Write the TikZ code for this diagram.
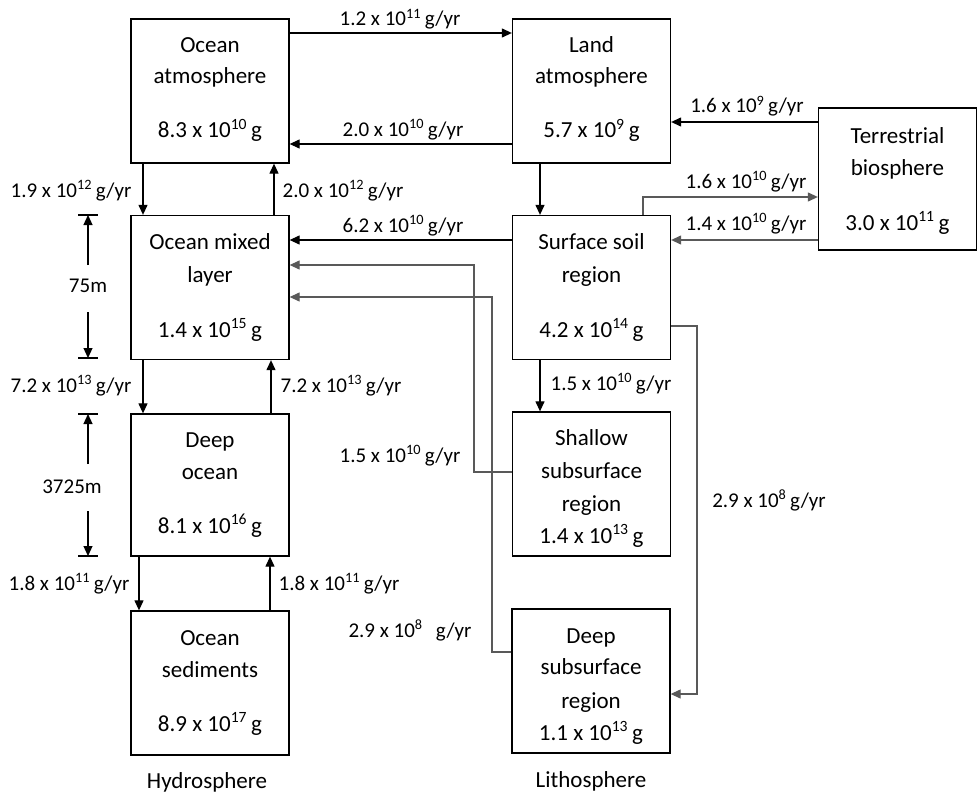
\documentclass[tikz,border=0pt]{standalone}
\usepackage{fontspec}
\setmainfont{Carlito}
\usetikzlibrary{arrows.meta}
\newcommand{\sci}[2]{#1 x 10\raisebox{0.36em}{\fontsize{0.68em}{0.8em}\selectfont #2}\hspace{0.2em}}
\begin{document}
\begin{tikzpicture}[x=1pt,y=-1pt,
  box/.style={draw, line width=1.3pt, minimum width=158pt, minimum height=144pt, inner sep=0pt},
  bt/.style={anchor=base, inner sep=0pt, font=\fontsize{23}{26}\selectfont},
  lb/.style={anchor=base, inner sep=0pt, font=\fontsize{21}{24}\selectfont},
  flow/.style={line width=1.2pt, -{Triangle[length=10pt,width=9pt]}},
  gflow/.style={flow, draw=black!65},
  tick/.style={line width=1.2pt}]
\useasboundingbox (0,0) rectangle (979,797);

% boxes
\node[box] (oa) at (210,91) {};
\node[box] (la) at (591.5,91) {};
\node[box, minimum height=142pt] (tb) at (897.5,179) {};
\node[box] (om) at (210,287.5) {};
\node[box] (ss) at (591.5,287.5) {};
\node[box] (sh) at (591.5,484) {};
\node[box, minimum height=142pt] (do) at (210,485) {};
\node[box] (os) at (210,683) {};
\node[box] (ds) at (591,681) {};

% box texts
\node[bt] (oa1) at (210,53) {Ocean};
\node[bt] (oa2) at (210,84) {atmosphere};
\node[bt] (oa3) at (210,138) {\sci{8.3}{10}g};
\node[bt] (la1) at (591.5,53) {Land};
\node[bt] (la2) at (591.5,84) {atmosphere};
\node[bt] (la3) at (591.5,138) {\sci{5.7}{9}g};
\node[bt] (tb1) at (897.5,143) {Terrestrial};
\node[bt] (tb2) at (897.5,175) {biosphere};
\node[bt] (tb3) at (897.5,230) {\sci{3.0}{11}g};
\node[bt] (om1) at (210,249) {Ocean mixed};
\node[bt] (om2) at (210,282) {layer};
\node[bt] (om3) at (210,337) {\sci{1.4}{15}g};
\node[bt] (ss1) at (591.5,249) {Surface soil};
\node[bt] (ss2) at (591.5,282) {region};
\node[bt] (ss3) at (591.5,337) {\sci{4.2}{14}g};
\node[bt] (sh1) at (591.5,445) {Shallow};
\node[bt] (sh2) at (591.5,478) {subsurface};
\node[bt] (sh3) at (591.5,511) {region};
\node[bt] (sh4) at (591.5,543) {\sci{1.4}{13}g};
\node[bt] (do1) at (210,447) {Deep};
\node[bt] (do2) at (210,479) {ocean};
\node[bt] (do3) at (210,533) {\sci{8.1}{16}g};
\node[bt] (os1) at (210,645) {Ocean};
\node[bt] (os2) at (210,677) {sediments};
\node[bt] (os3) at (210,731) {\sci{8.9}{17}g};
\node[bt] (ds1) at (591,643) {Deep};
\node[bt] (ds2) at (591,674) {subsurface};
\node[bt] (ds3) at (591,708) {region};
\node[bt] (ds4) at (591,740) {\sci{1.1}{13}g};

\node[bt] (hy) at (207,788) {Hydrosphere};
\node[bt] (li) at (591,787) {Lithosphere};

% connectors
\draw[flow] (oa.east |- 0,33) -- (la.west |- 0,33);
\draw[flow] (la.west |- 0,144) -- (oa.east |- 0,144);
\draw[flow] (oa.south -| 143,0) -- (om.north -| 143,0);
\draw[flow] (om.north -| 274,0) -- (oa.south -| 274,0);
\draw[flow] (la.south -| 540,0) -- (ss.north -| 540,0);
\draw[flow] (tb.west |- 0,122) -- (la.east |- 0,122);
\draw[gflow] (ss.north -| 643,0) |- (tb.west |- 0,197);
\draw[gflow] (tb.west |- 0,240) -- (ss.east |- 0,240);
\draw[flow] (ss.west |- 0,240) -- (om.east |- 0,240);
\draw[gflow] (sh.west |- 0,472) -| (474,265) -- (om.east |- 0,265);
\draw[gflow] (ds.west |- 0,652) -| (492,297) -- (om.east |- 0,297);
\draw[gflow] (ss.east |- 0,326) -| (697,694) -- (ds.east |- 0,694);
\draw[flow] (ss.south -| 540,0) -- (sh.north -| 540,0);
\draw[flow] (om.south -| 143,0) -- (do.north -| 143,0);
\draw[flow] (do.north -| 271,0) -- (om.south -| 271,0);
\draw[flow] (do.south -| 139,0) -- (os.north -| 139,0);
\draw[flow] (os.north -| 270,0) -- (do.south -| 270,0);

% flow labels
\node[lb] at (400,26) {\sci{1.2}{11}g/yr};
\node[lb] at (403,136) {\sci{2.0}{10}g/yr};
\node[lb] at (71,197) {\sci{1.9}{12}g/yr};
\node[lb] at (343,197) {\sci{2.0}{12}g/yr};
\node[lb] at (747,113) {\sci{1.6}{9}g/yr};
\node[lb] at (746,188) {\sci{1.6}{10}g/yr};
\node[lb] at (746,230) {\sci{1.4}{10}g/yr};
\node[lb] at (403,232) {\sci{6.2}{10}g/yr};
\node[lb] at (71,392) {\sci{7.2}{13}g/yr};
\node[lb] at (341,392) {\sci{7.2}{13}g/yr};
\node[lb] at (400,462) {\sci{1.5}{10}g/yr};
\node[lb] at (410,637) {\sci{2.9}{8}\ \ g/yr};
\node[lb] at (69,590) {\sci{1.8}{11}g/yr};
\node[lb] at (339,590) {\sci{1.8}{11}g/yr};
\node[lb] at (611,390) {\sci{1.5}{10}g/yr};
\node[lb] at (769,507) {\sci{2.9}{8}g/yr};

% depth markers
\coordinate (m1t) at (88,215);
\coordinate (m1b) at (88,358);
\coordinate (m2t) at (88,414);
\coordinate (m2b) at (88,556);
\draw[tick] ([xshift=-10pt]m1t) -- ([xshift=10pt]m1t);
\draw[tick] ([xshift=-10pt]m1b) -- ([xshift=10pt]m1b);
\draw[tick] ([xshift=-10pt]m2t) -- ([xshift=10pt]m2t);
\draw[tick] ([xshift=-10pt]m2b) -- ([xshift=10pt]m2b);
\node[lb] (d1) at (88,292) {75m};
\node[lb] (d2) at (72,493) {3725m};
\coordinate (a1) at (88,265);
\coordinate (a2) at (88,312);
\coordinate (a3) at (88,464);
\coordinate (a4) at (88,511);
\draw[flow] (a1) -- (m1t);
\draw[flow] (a2) -- (m1b);
\draw[flow] (a3) -- (m2t);
\draw[flow] (a4) -- (m2b);
\end{tikzpicture}
\end{document}
